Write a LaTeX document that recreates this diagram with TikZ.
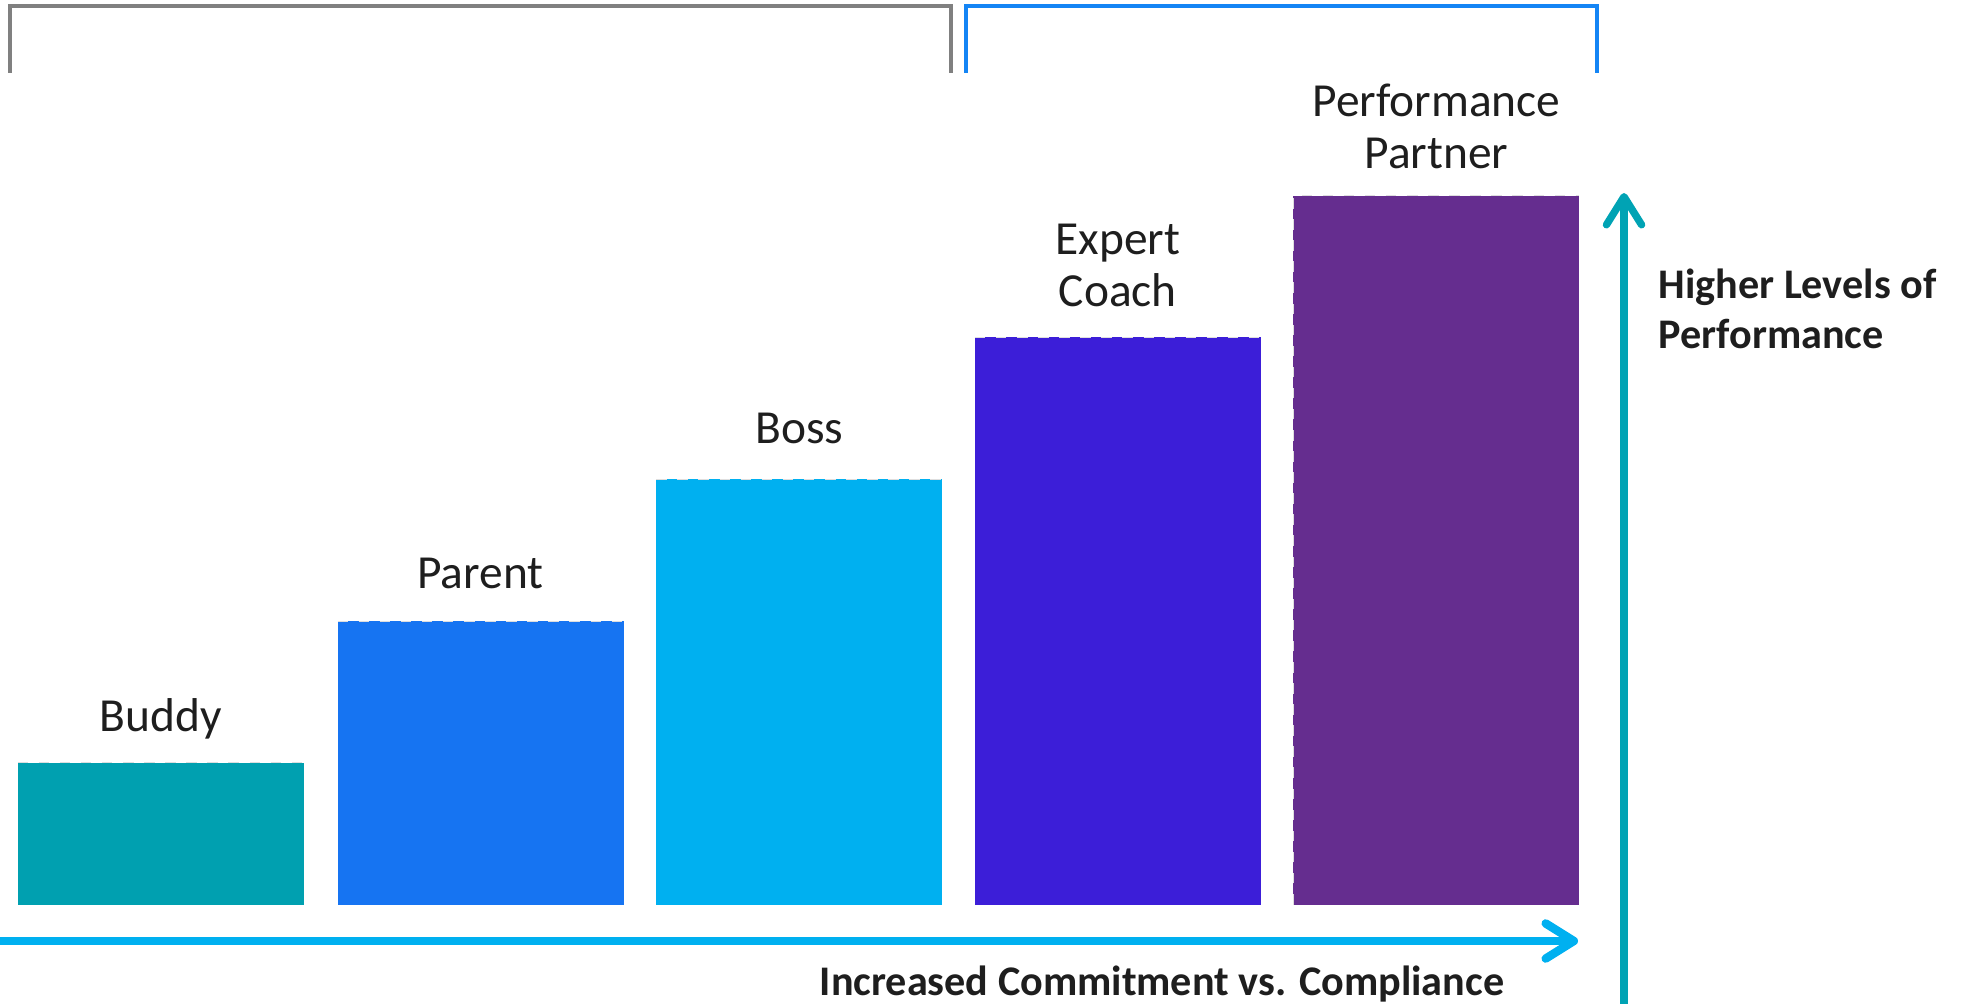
\documentclass[tikz,border=0pt]{standalone}
\usepackage{fontspec}
\setmainfont{Carlito}
\usetikzlibrary{arrows.meta}

\definecolor{cBuddy}{RGB}{0,160,176}
\definecolor{cParent}{RGB}{22,116,242}
\definecolor{cBoss}{RGB}{0,176,240}
\definecolor{cExpert}{RGB}{60,30,216}
\definecolor{cPartner}{RGB}{101,45,143}
\definecolor{cAxisX}{RGB}{0,176,240}
\definecolor{cAxisY}{RGB}{0,163,180}
\definecolor{cGrayBr}{RGB}{128,128,128}
\definecolor{cBlueBr}{RGB}{20,133,245}
\definecolor{cInk}{RGB}{30,30,30}
\definecolor{cEdge}{RGB}{222,222,222}

\begin{document}
\begin{tikzpicture}[x=0.1mm,y=-0.1mm,
  bar/.style={fill=#1},
  baredge/.style={draw=cEdge,dashed,line width=0.25pt},
  barlabel/.style={font=\fontsize{13.5}{15}\selectfont,text=cInk,anchor=base,align=center,inner sep=0pt},
  axislabel/.style={font=\fontsize{12}{14.5}\selectfont\bfseries,text=cInk,inner sep=0pt},
  bracket/.style={line width=0.9pt},
  axis/.style={line cap=butt}
]
\useasboundingbox (0,0) rectangle (1967,1004);

% group brackets along the top
\draw[bracket,cGrayBr] (10,73) -- (10,6) -- (951,6) -- (951,73);
\draw[bracket,cBlueBr] (966,73) -- (966,6) -- (1597,6) -- (1597,73);

% bars of increasing height
\path[bar=cBuddy]   (17.6,762.7)   rectangle (303.6,904.5);
\path[bar=cParent]  (337.5,621.0)  rectangle (623.5,904.5);
\path[bar=cBoss]    (656.3,479.2)  rectangle (942.3,904.5);
\path[bar=cExpert]  (974.8,337.5)  rectangle (1260.8,904.5);
\path[bar=cPartner] (1293.4,195.7) rectangle (1579.4,904.5);

% faint dashed top edges of the bars
\draw[baredge] (17.6,762.7) -- (303.6,762.7);
\draw[baredge] (337.5,621.0) -- (623.5,621.0);
\draw[baredge] (656.3,479.2) -- (942.3,479.2);
\draw[baredge] (974.8,337.5) -- (1260.8,337.5);
\draw[baredge] (1293.4,904.5) -- (1293.4,195.7) -- (1579.4,195.7);

% bar labels
\node[barlabel] (lBuddy)   at (160.6,731) {Buddy};
\node[barlabel] (lParent)  at (480.5,588) {Parent};
\node[barlabel] (lBoss)    at (799.3,443) {Boss};
\node[barlabel] (lExpert)  at (1117.8,307) {Expert\\Coach};
\node[barlabel] (lPartner) at (1436.4,169) {Performance\\Partner};

% horizontal axis
\coordinate (xStart) at (-10,941);
\coordinate (xEnd) at (1578,941);
\draw[axis,cAxisX,line width=2.4pt,-{Straight Barb[length=8pt,width=10pt,round]}] (xStart) -- (xEnd);
\node[axislabel,anchor=base] (xLabel) at (1162,995) {Increased Commitment vs. Compliance};

% vertical axis
\coordinate (yStart) at (1624,1012);
\coordinate (yEnd) at (1624,193);
\draw[axis,cAxisY,line width=2.1pt,-{Straight Barb[length=8pt,width=10pt,round]}] (yStart) -- (yEnd);
\node[axislabel,anchor=base west,align=left] (yLabel) at (1658,349) {Higher Levels of\\Performance};
\end{tikzpicture}
\end{document}
